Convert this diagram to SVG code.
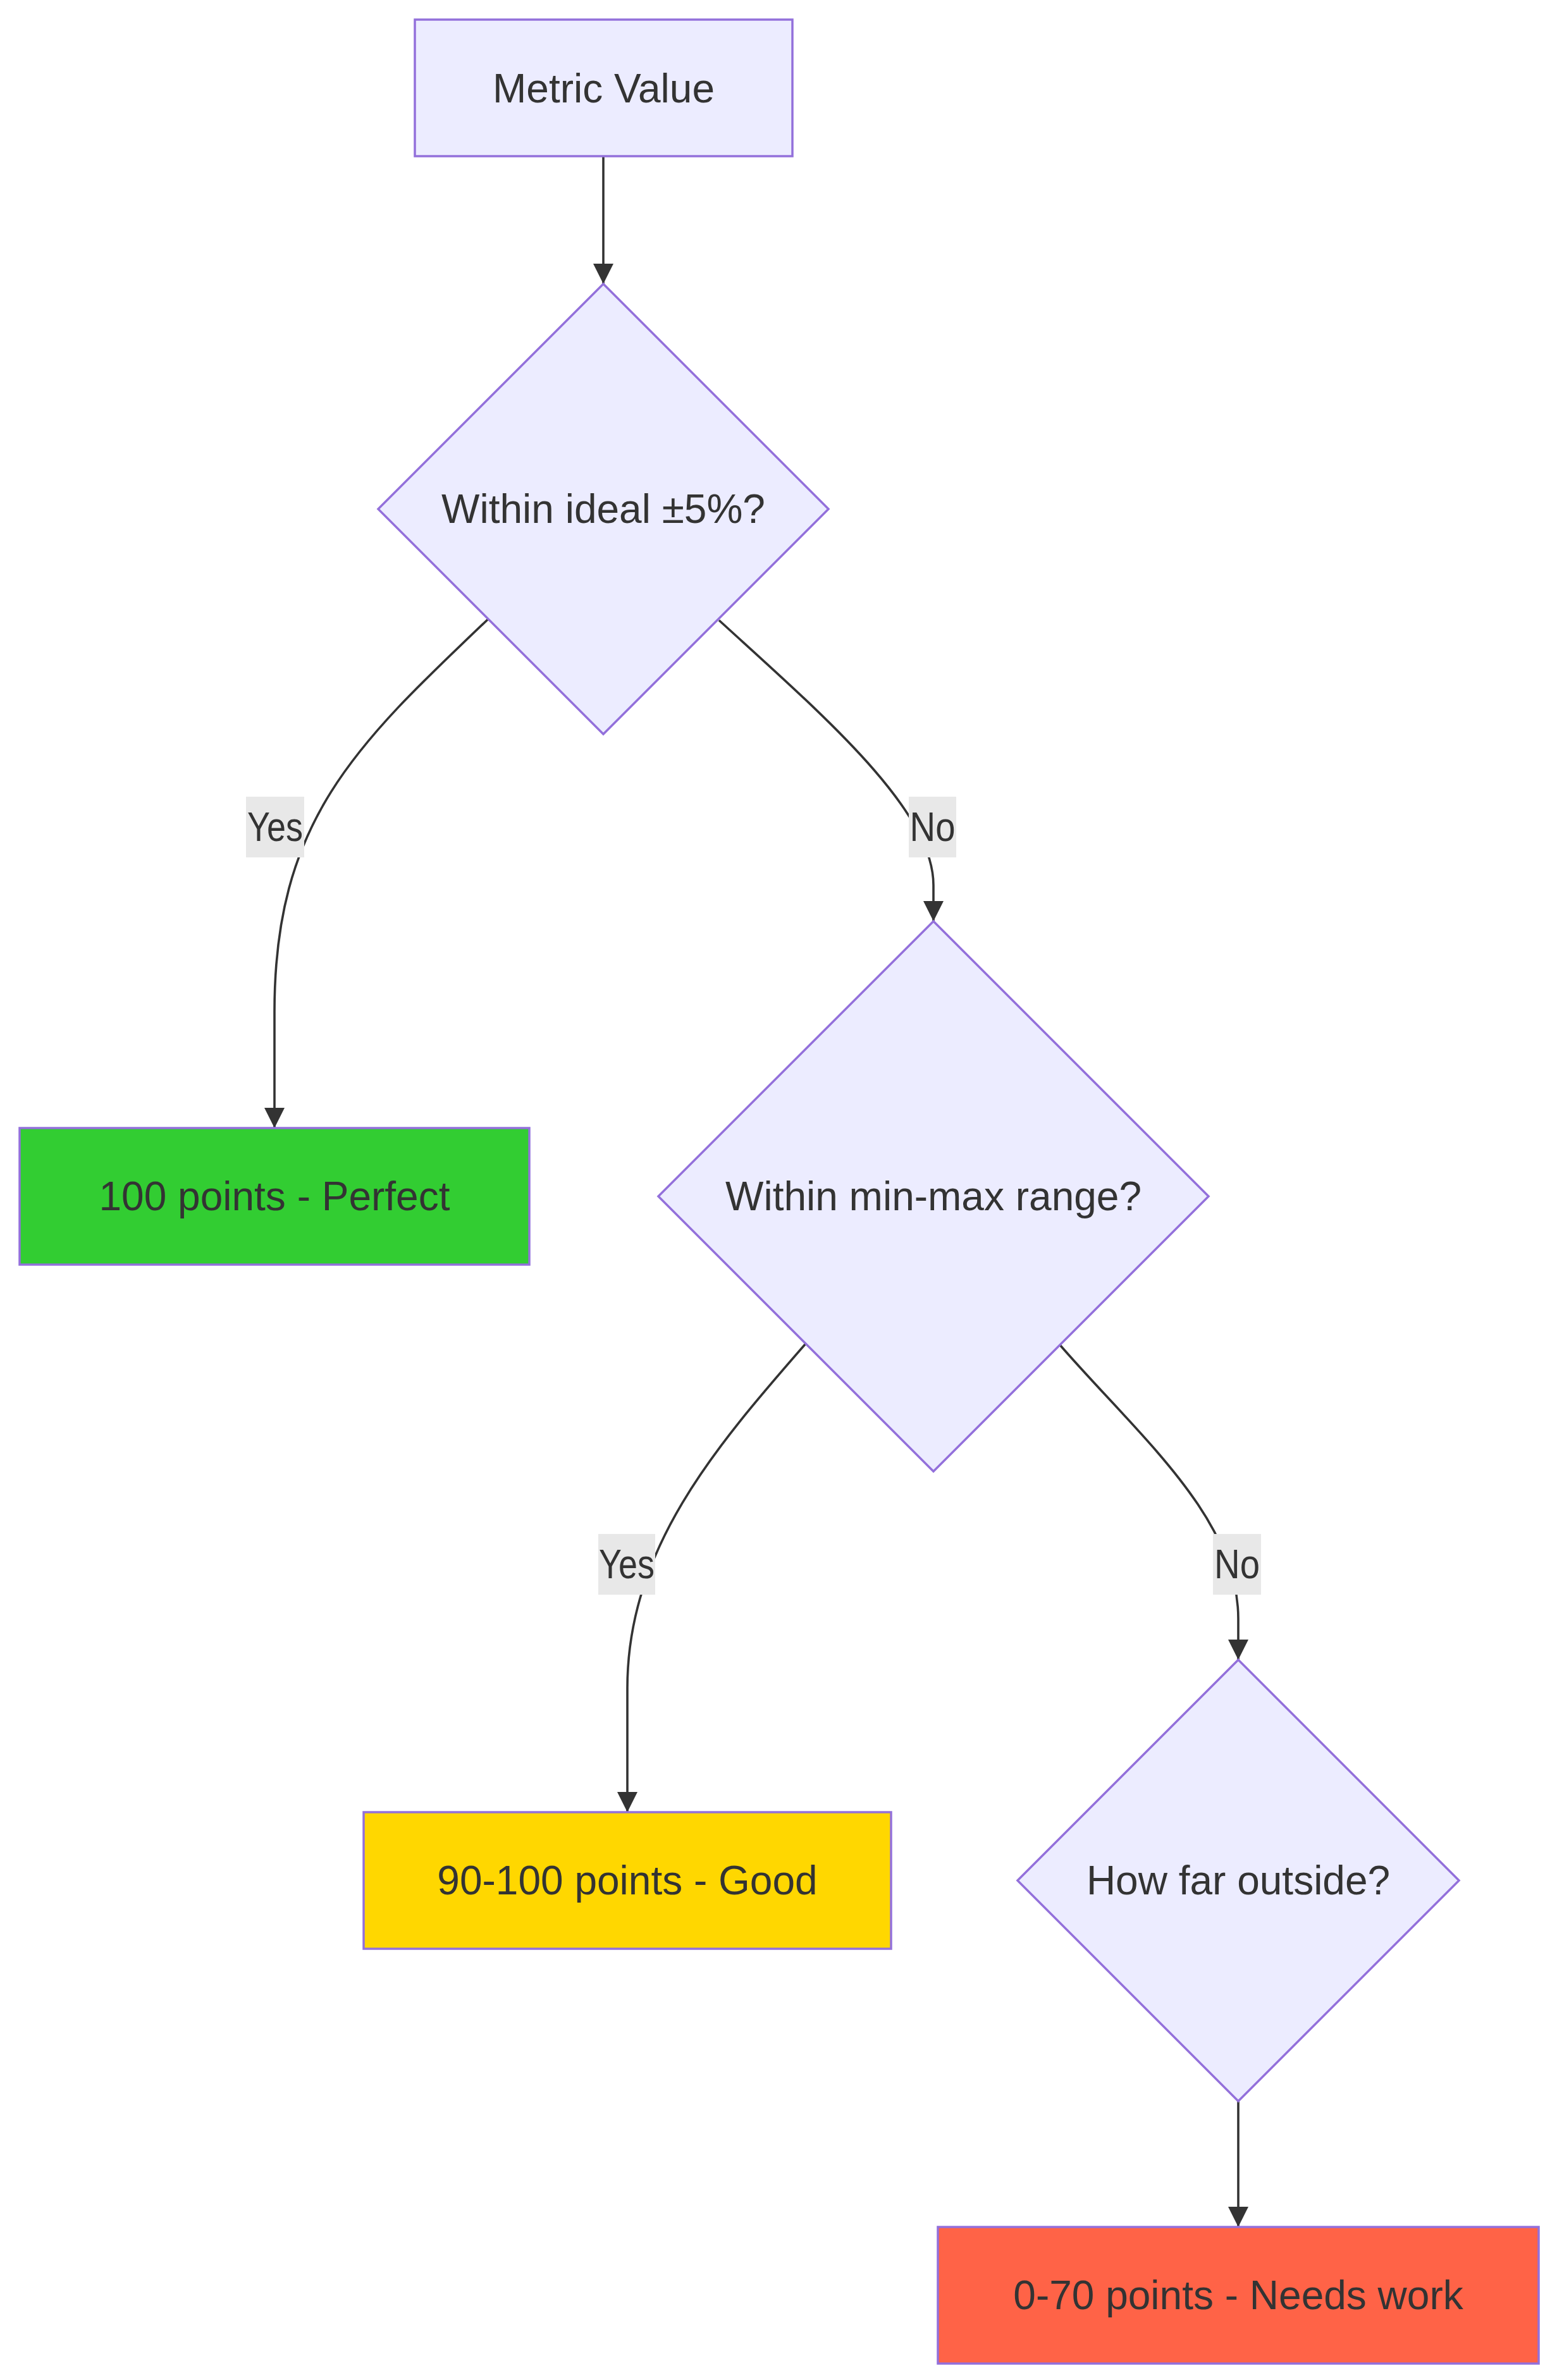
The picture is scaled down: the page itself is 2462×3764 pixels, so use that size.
<svg xmlns="http://www.w3.org/2000/svg" width="2462" height="3764" viewBox="0 0 2462 3764">
<style>
.node rect,.node polygon{fill:#ECECFF;stroke:#9370DB;stroke-width:3.5}
.lbl{font-family:"Liberation Sans",Arial,sans-serif;font-size:64px;fill:#333333;text-anchor:middle}
.edge{fill:none;stroke:#333333;stroke-width:3.6}
.ebg{fill:#e8e8e8}
</style>
<defs>
<marker id="arrow" markerUnits="userSpaceOnUse" markerWidth="32" markerHeight="32" viewBox="0 0 10 10" refX="10" refY="5" orient="auto">
<path d="M0,0 L10,5 L0,10 z" fill="#333333"/>
</marker>
</defs>
<rect x="0" y="0" width="2462" height="3764" fill="#ffffff"/>
<g id="connectors">
<path class="edge" d="M954,248 L954,449" marker-end="url(#arrow)"/>
<path class="edge" d="M772,979 C560,1180 434,1300 434,1600 L434,1784" marker-end="url(#arrow)"/>
<path class="edge" d="M1137,981 C1300,1130 1476,1280 1476,1400 L1476,1457" marker-end="url(#arrow)"/>
<path class="edge" d="M1274,2125 C1130,2290 992,2450 992,2670 L992,2866" marker-end="url(#arrow)"/>
<path class="edge" d="M1676,2127 C1800,2270 1958,2400 1958,2560 L1958,2625" marker-end="url(#arrow)"/>
<path class="edge" d="M1958,3323 L1958,3522" marker-end="url(#arrow)"/>
<g id="label-yes1"><rect class="ebg" x="389" y="1260" width="92" height="96"/><text class="lbl" x="435" y="1330" textLength="88" lengthAdjust="spacingAndGlyphs">Yes</text></g>
<g id="label-no1"><rect class="ebg" x="1437" y="1260" width="75" height="96"/><text class="lbl" x="1474.5" y="1330" textLength="72" lengthAdjust="spacingAndGlyphs">No</text></g>
<g id="label-yes2"><rect class="ebg" x="946" y="2426" width="90" height="96"/><text class="lbl" x="991" y="2496" textLength="88" lengthAdjust="spacingAndGlyphs">Yes</text></g>
<g id="label-no2"><rect class="ebg" x="1918" y="2426" width="76" height="96"/><text class="lbl" x="1956" y="2496" textLength="72" lengthAdjust="spacingAndGlyphs">No</text></g>
</g>
<g id="node-metric" class="node">
<rect x="656" y="31" width="597" height="216"/>
<text class="lbl" x="954.5" y="162">Metric Value</text>
</g>
<g id="node-ideal" class="node">
<polygon points="954,449 1310,805 954,1161 598,805"/>
<text class="lbl" x="954" y="827">Within ideal ±5%?</text>
</g>
<g id="node-perfect" class="node">
<rect x="31" y="1784" width="806" height="216" style="fill:#32CD32"/>
<text class="lbl" x="434" y="1914">100 points - Perfect</text>
</g>
<g id="node-range" class="node">
<polygon points="1476,1457 1911,1892 1476,2327 1041,1892"/>
<text class="lbl" x="1476" y="1914">Within min-max range?</text>
</g>
<g id="node-good" class="node">
<rect x="575" y="2866" width="834" height="216" style="fill:#FFD700"/>
<text class="lbl" x="992" y="2996">90-100 points - Good</text>
</g>
<g id="node-outside" class="node">
<polygon points="1958,2625 2307,2974 1958,3323 1609,2974"/>
<text class="lbl" x="1958" y="2996">How far outside?</text>
</g>
<g id="node-work" class="node">
<rect x="1483" y="3522" width="950" height="216" style="fill:#FF6347"/>
<text class="lbl" x="1958" y="3652">0-70 points - Needs work</text>
</g>
</svg>
